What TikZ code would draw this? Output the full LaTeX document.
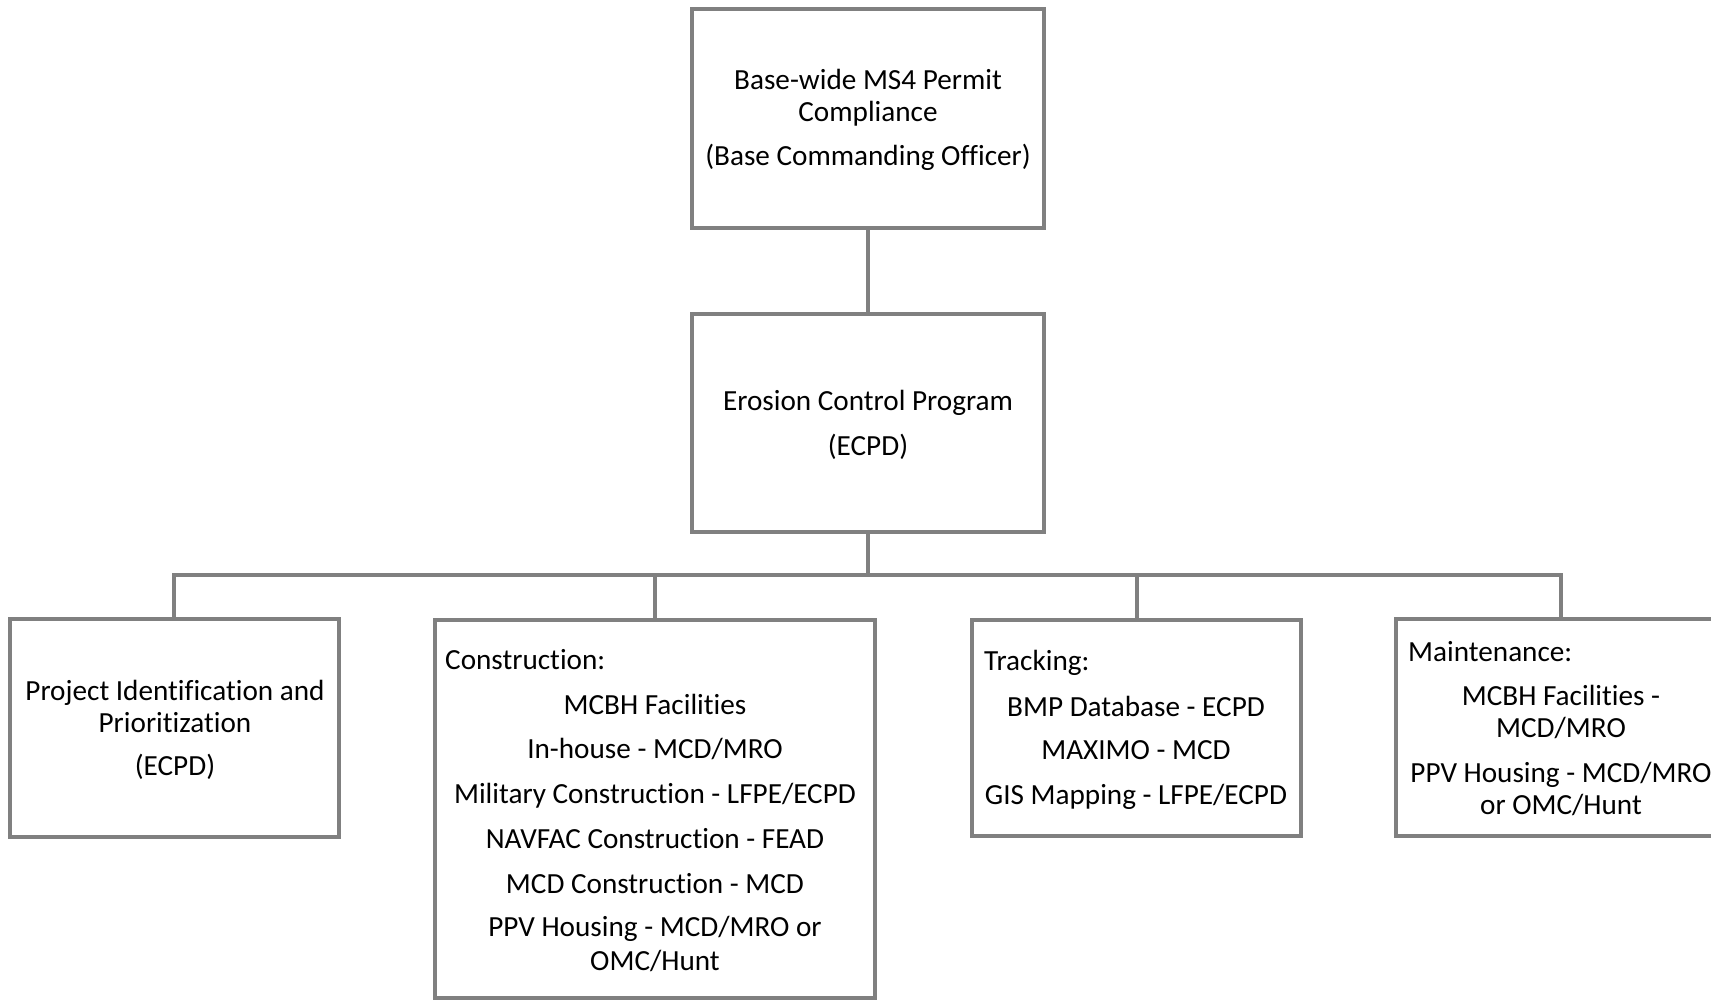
\documentclass[tikz,border=0pt]{standalone}
\usepackage{fontspec}
\setmainfont{Carlito}[Ligatures={NoCommon}]
\definecolor{linegray}{RGB}{128,128,128}
\tikzset{
  box/.style={draw=linegray, line width=4pt, inner sep=0pt, fill=white},
  link/.style={draw=linegray, line width=4pt},
  txt/.style={font=\fontsize{29.2}{32}\selectfont, inner sep=0pt, anchor=base},
  lefttxt/.style={txt, anchor=base west}
}
\begin{document}
\begin{tikzpicture}[x=1pt,y=-1pt]
\useasboundingbox (0,0) rectangle (1711,1000);
\clip (0,0) rectangle (1711,1000);

% boxes
\node[box, minimum width=352pt, minimum height=219pt] (top) at (868,118.5) {};
\node[box, minimum width=352pt, minimum height=218pt] (mid) at (868,423) {};
\node[box, minimum width=329pt, minimum height=218pt] (b1) at (174,728) {};
\node[box, minimum width=440pt, minimum height=378pt] (b2) at (655,809) {};
\node[box, minimum width=329pt, minimum height=216pt] (b3) at (1136.5,728) {};
\node[box, minimum width=330pt, minimum height=217pt] (b4) at (1561,727.5) {};

% connectors
\coordinate (bus) at (868,575);
\draw[link] (top.south) -- (mid.north);
\draw[link] (mid.south) -- (bus);
\draw[link] (bus) -| (b1.north);
\draw[link] (bus) -| (b2.north);
\draw[link] (bus) -| (b3.north);
\draw[link] (bus) -| (b4.north);

% top box text
\node[txt] (t1) at (868,90) {Base-wide MS4 Permit};
\node[txt] (t2) at (868,122) {Compliance};
\node[txt] (t3) at (868,166) {(Base Commanding Officer)};

% program box text
\node[txt] (m1) at (868,410) {Erosion Control Program};
\node[txt] (m2) at (868,455) {(ECPD)};

% project identification
\node[txt] (p1) at (175,700) {Project Identification and};
\node[txt] (p2) at (175,732) {Prioritization};
\node[txt] (p3) at (175,775) {(ECPD)};

% construction
\node[lefttxt] (c0) at (445,669) {Construction:};
\node[txt] (c1) at (655,714) {MCBH Facilities};
\node[txt] (c2) at (655,758) {In-house - MCD/MRO};
\node[txt] (c3) at (655,803) {Military Construction - LFPE/ECPD};
\node[txt] (c4) at (655,848) {NAVFAC Construction - FEAD};
\node[txt] (c5) at (655,893) {MCD Construction - MCD};
\node[txt] (c6) at (655,936) {PPV Housing - MCD/MRO or};
\node[txt] (c7) at (655,970) {OMC/Hunt};

% tracking
\node[lefttxt] (k0) at (984,670) {Tracking:};
\node[txt] (k1) at (1136,716) {BMP Database - ECPD};
\node[txt] (k2) at (1136,759) {MAXIMO - MCD};
\node[txt] (k3) at (1136,804) {GIS Mapping - LFPE/ECPD};

% maintenance
\node[lefttxt] (n0) at (1408,661) {Maintenance:};
\node[txt] (n1) at (1561,705) {MCBH Facilities -};
\node[txt] (n2) at (1561,737) {MCD/MRO};
\node[txt] (n3) at (1561,782) {PPV Housing - MCD/MRO};
\node[txt] (n4) at (1561,814) {or OMC/Hunt};
\end{tikzpicture}
\end{document}
